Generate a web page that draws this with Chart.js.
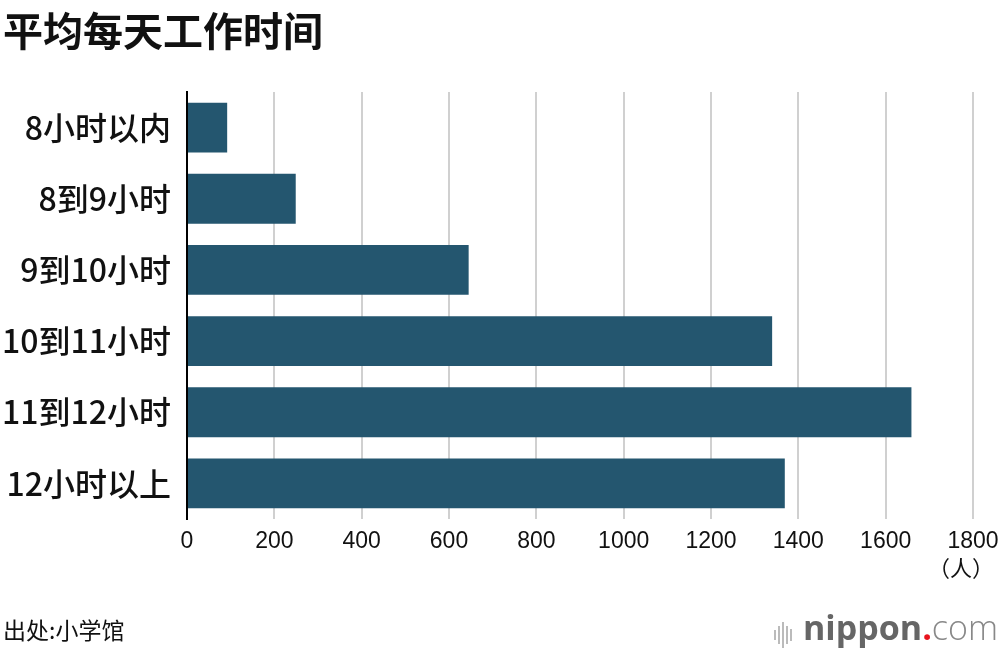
<!DOCTYPE html>
<html>
<head>
<meta charset="utf-8">
<script src="https://cdn.jsdelivr.net/npm/chart.js@4"></script>
<style>
  body { margin: 0; background: #fff; }
  #wrap { position: relative; width: 1000px; height: 650px; overflow: hidden; }
  #chart { position: absolute; left: 0; top: 0; }
  .title { position: absolute; left: 3px; top: 0px; font: bold 40px "Noto Sans CJK SC"; color: #111; }
  .unit { position: absolute; right: 6px; top: 550px; font: 22px "Noto Sans CJK SC"; color: #111; }
  .source { position: absolute; left: 3px; top: 612px; font: 23px "Noto Sans CJK SC"; color: #111; }
  .logo { position: absolute; left: 774px; top: 604px; font: 34px "Open Sans"; color: #666; white-space: nowrap; }
  .logo b { font-weight: 700; }
  .logo .dot { color: #e8141e; font-weight: 700; }
  .logo .com { color: #888; font-weight: 300; }
  .wave { display: inline-block; vertical-align: middle; margin-right: 9px; }
  .wave i { display: inline-block; width: 2px; background: #bbb; margin-right: 2px; vertical-align: middle; }
</style>
</head>
<body>
<div id="wrap">
  <canvas id="chart" width="1000" height="650"></canvas>
  <div class="title">平均每天工作时间</div>
  <div class="unit">（人）</div>
  <div class="source">出处:小学馆</div>
  <div class="logo"><span class="wave"><i style="height:10px"></i><i style="height:18px"></i><i style="height:26px"></i><i style="height:18px"></i><i style="height:12px"></i></span><b>nippon</b><span class="dot">.</span><span class="com">com</span></div>
</div>
<script>
// data
const categories = ["8小时以内", "8到9小时", "9到10小时", "10到11小时", "11到12小时", "12小时以上"];
const people = [92, 249, 645, 1340, 1659, 1369];
const xTicks = [0, 200, 400, 600, 800, 1000, 1200, 1400, 1600, 1800];

const ctx = document.getElementById("chart").getContext("2d");
new Chart(ctx, {
  type: "bar",
  data: {
    labels: categories,
    datasets: [
      {
        data: people,
        backgroundColor: "#24566f",
        borderWidth: 0,
        barPercentage: 0.7,
        categoryPercentage: 1,
      },
    ],
  },
  options: {
    indexAxis: "y",
    responsive: false,
    animation: false,
    layout: { padding: { top: 92, right: 0, left: 0, bottom: 0 } },
    plugins: { legend: { display: false }, tooltip: { enabled: false } },
    scales: {
      x: {
        min: 0,
        max: 1800,
        afterBuildTicks: (axis) => {
          axis.ticks = xTicks.map((v) => ({ value: v }));
        },
        afterFit: (axis) => {
          axis.height = 131;
          axis.paddingRight = 27;
          axis.paddingLeft = 0;
        },
        grid: { color: "#d0d0d0", lineWidth: 2, drawTicks: false },
        border: { display: false },
        ticks: {
          padding: 9,
          color: "#111",
          font: { family: "Liberation Sans", size: 23 },
          callback: (v) => String(v),
        },
      },
      y: {
        afterFit: (axis) => {
          axis.width = 187;
        },
        grid: { display: false, drawTicks: false },
        border: { display: true, color: "#000", width: 2 },
        ticks: {
          padding: 16,
          color: "#111",
          font: { family: "Noto Sans CJK SC", size: 32, weight: "500" },
        },
      },
    },
  },
});
</script>
</body>
</html>
